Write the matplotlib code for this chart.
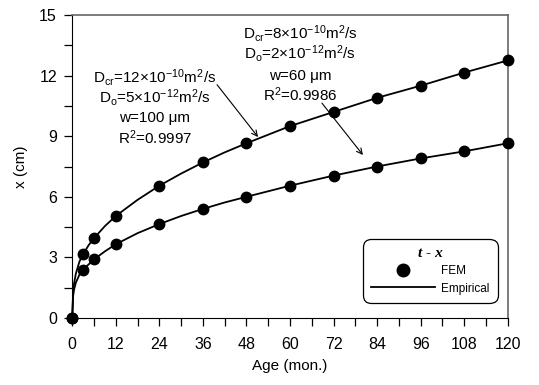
import numpy as np
import matplotlib
matplotlib.use('Agg')
import matplotlib.pyplot as plt
from matplotlib.lines import Line2D
from matplotlib.ticker import MultipleLocator

plt.rcParams['font.family'] = ['Liberation Sans', 'DejaVu Sans']
plt.rcParams['mathtext.fontset'] = 'custom'
plt.rcParams['mathtext.rm'] = 'Liberation Sans'
plt.rcParams['mathtext.it'] = 'Liberation Sans:italic'

# FEM results (points)
age_fem = [0, 3, 6, 12, 24, 36, 48, 60, 72, 84, 96, 108, 120]
x_fem_w100 = [0, 3.15, 3.95, 5.05, 6.55, 7.7, 8.65, 9.5, 10.2, 10.9, 11.5, 12.15, 12.75]
x_fem_w60 = [0, 2.4, 2.9, 3.65, 4.65, 5.4, 6.0, 6.55, 7.05, 7.5, 7.9, 8.25, 8.65]

# empirical curves
age_emp = [0, 0.25, 0.5, 1, 2, 3, 4.5, 6, 9, 12, 18, 24, 30, 36, 42, 48,
           60, 72, 84, 96, 108, 120]
x_emp_w100 = [0, 1.3, 1.7, 2.2, 2.8, 3.15, 3.6, 3.95, 4.55, 5.05, 5.85, 6.55,
              7.15, 7.7, 8.2, 8.65, 9.5, 10.2, 10.9, 11.5, 12.15, 12.75]
x_emp_w60 = [0, 1.1, 1.4, 1.75, 2.15, 2.4, 2.65, 2.9, 3.3, 3.65, 4.2, 4.65,
             5.05, 5.4, 5.72, 6.0, 6.55, 7.05, 7.5, 7.9, 8.25, 8.65]

fig = plt.figure(figsize=(5.39, 3.85), dpi=100)
ax = fig.add_axes([0.134, 0.174, 0.808, 0.787])

for xe, xf in [(x_emp_w100, x_fem_w100), (x_emp_w60, x_fem_w60)]:
    ax.plot(age_emp, xe, color='black', lw=1.3, zorder=2, clip_on=False)
    ax.plot(age_fem, xf, 'o', color='black', ms=7.5, zorder=3, clip_on=False)

ax.set_xlim(0, 120)
ax.set_ylim(0, 15)
ax.xaxis.set_major_locator(MultipleLocator(12))
ax.xaxis.set_minor_locator(MultipleLocator(6))
ax.yaxis.set_major_locator(MultipleLocator(3))
ax.yaxis.set_minor_locator(MultipleLocator(1.5))
ax.tick_params(which='both', direction='out', labelsize=11.5, width=0.9)
ax.tick_params(which='major', length=6)
ax.tick_params(which='minor', length=6)
ax.tick_params(axis='x', pad=8)
ax.tick_params(axis='y', pad=5)
for s in ['top', 'right']:
    ax.spines[s].set_color('0.4')
    ax.spines[s].set_linewidth(1.2)
ax.set_xlabel('Age (mon.)', fontsize=11, labelpad=5)
ax.set_ylabel('x (cm)', fontsize=11, labelpad=8)

fs = 11
lines1 = [r'D$_{\rm cr}$=12×10$^{-10}$m$^2$/s', r'D$_{\rm o}$=5×10$^{-12}$m$^2$/s',
          'w=100 μm', r'R$^2$=0.9997']
ys1 = [11.9, 10.9, 9.9, 8.95]
for s, y in zip(lines1, ys1):
    ax.text(22.8, y, s, ha='center', va='center', fontsize=fs)
lines2 = [r'D$_{\rm cr}$=8×10$^{-10}$m$^2$/s', r'D$_{\rm o}$=2×10$^{-12}$m$^2$/s',
          'w=60 μm', r'R$^2$=0.9986']
ys2 = [14.1, 13.1, 12.0, 11.05]
for s, y in zip(lines2, ys2):
    ax.text(62.8, y, s, ha='center', va='center', fontsize=fs)

arrow = dict(arrowstyle='->', color='black', lw=0.8, shrinkA=0, shrinkB=0)
ax.annotate('', xy=(51.2, 8.96), xytext=(39.9, 11.55), arrowprops=arrow)
ax.annotate('', xy=(80.1, 8.07), xytext=(68.8, 10.64), arrowprops=arrow)

handles = [Line2D([], [], marker='o', ls='none', color='black', ms=9),
           Line2D([], [], color='black', lw=1.3)]
leg = ax.legend(handles, ['FEM', 'Empirical'], loc='lower right',
                bbox_to_anchor=(0.977, 0.05), borderaxespad=0, fontsize=8.5,
                title='t - x', handlelength=5.4, handletextpad=0.5,
                labelspacing=0.45, borderpad=0.7, fancybox=True,
                edgecolor='black', framealpha=1)
leg.get_title().set_fontfamily('Liberation Serif')
leg.get_title().set_fontweight('bold')
leg.get_title().set_fontstyle('italic')
leg.get_title().set_fontsize(11)
leg.get_frame().set_linewidth(0.9)
leg.get_frame().set_boxstyle('round,pad=0,rounding_size=0.7')

fig.savefig('out.png', dpi=100)
